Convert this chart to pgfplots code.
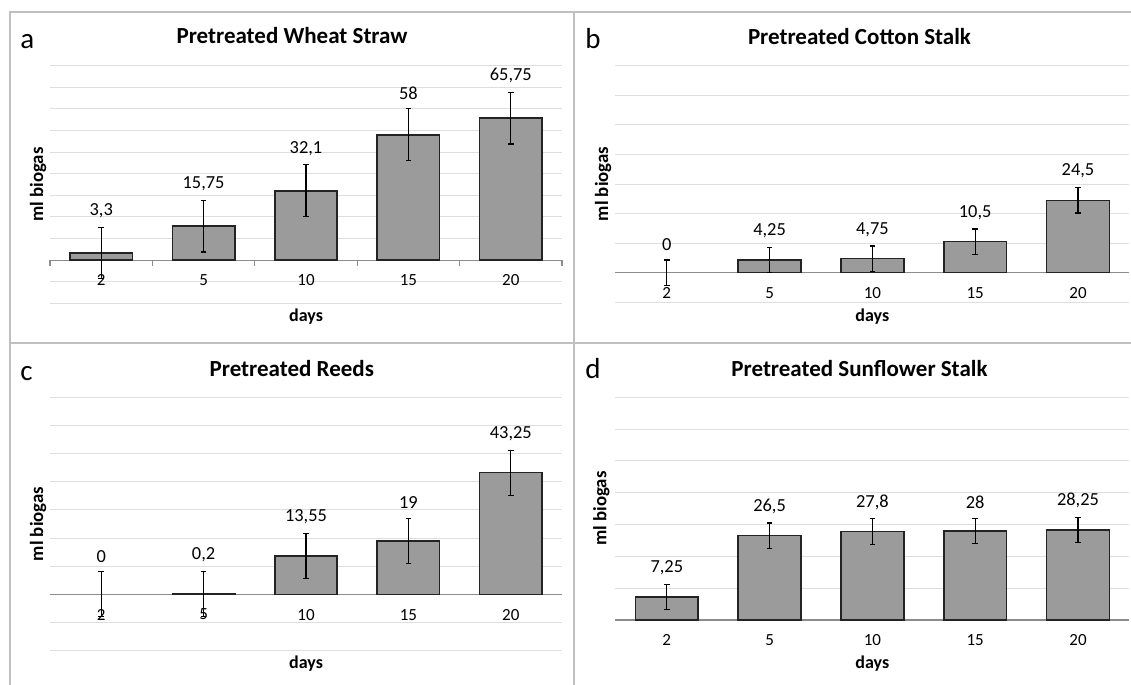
\documentclass[border=0pt]{standalone}
\usepackage{pgfplots}
\pgfplotsset{compat=1.18}
\usepackage{pgfplotstable}
\usepackage{fontspec}
\setmainfont{Carlito}
\definecolor{barfill}{RGB}{155,155,155}
\definecolor{gridc}{RGB}{222,222,222}
\definecolor{axc}{RGB}{140,140,140}
\definecolor{framec}{RGB}{192,192,192}
\definecolor{barline}{RGB}{35,35,35}

\pgfplotstableread{
x y e top lab
0 3.3 12 15.3 3,3
1 15.75 12 27.75 15,75
2 32.1 12 44.1 32,1
3 58 12 70 58
4 65.75 12 77.75 65,75
}\dataA
\pgfplotstableread{
x y e top lab
0 0 4.3 4.3 0
1 4.25 4.3 8.55 4,25
2 4.75 4.3 9.05 4,75
3 10.5 4.3 14.8 10,5
4 24.5 4.3 28.8 24,5
}\dataB
\pgfplotstableread{
x y e top lab
0 0 8 8 0
1 0.2 8 8.2 0,2
2 13.55 8 21.55 13,55
3 19 8 27 19
4 43.25 8 51.25 43,25
}\dataC
\pgfplotstableread{
x y e top lab
0 7.25 4 11.25 7,25
1 26.5 4 30.5 26,5
2 27.8 4 31.8 27,8
3 28 4 32 28
4 28.25 4 32.25 28,25
}\dataD

\pgfplotsset{
 panel/.style={
   scale only axis, anchor=south west,
   xmin=-0.5, xmax=4.5,
   axis x line*=middle, axis y line*=left,
   y axis line style={draw=none},
   x axis line style={draw=axc, line width=0.6pt},
   xtick={0,...,4}, xticklabels={2,5,10,15,20},
   major tick length=0pt,
   yticklabels={},
   ymajorgrids, grid style={draw=gridc, line width=0.5pt},
   xticklabel style={font=\fontsize{8.5}{9}\selectfont, yshift=-3.8pt},
   xlabel={days}, ylabel={ml biogas},
   every node near coord/.append style={font=\fontsize{9.2}{10}\selectfont, anchor=south, text=black, yshift=1.2pt},
 },
 ylab/.style={every axis y label/.style={at={(axis description cs:#1,0.5)}, rotate=90, anchor=center, font=\bfseries\fontsize{9.4}{10}\selectfont}},
 xlab/.style={every axis x label/.style={at={(axis description cs:0.5,#1)}, anchor=center, font=\bfseries\fontsize{9}{10}\selectfont}},
 ttl/.style n args={2}{every axis title/.style={at={(axis description cs:#1,#2)}, anchor=center, font=\bfseries\fontsize{11.5}{13}\selectfont}},
 barsty/.style={ybar, bar width=0.61, fill=barfill, draw=barline, line width=0.75pt, restrict y to domain=0.001:1000},
 errsty/.style={draw=none, mark=none, forget plot, error bars/.cd, y dir=both, y explicit, error bar style={draw=black, line width=0.55pt}, error mark options={draw=black, rotate=90, mark size=1.4pt, line width=0.55pt}},
 labsty/.style={draw=none, mark=none, nodes near coords, point meta=explicit symbolic},
}

\begin{document}
\begin{tikzpicture}
\useasboundingbox (0,0) rectangle (565.5pt,-342.5pt);
\draw[framec, line width=0.6pt] (5pt,-342.5pt) -- (5pt,-6pt) -- (565.5pt,-6pt);
\draw[framec, line width=0.6pt] (287pt,-6pt) -- (287pt,-342.5pt);
\draw[framec, line width=0.6pt] (5pt,-171.5pt) -- (565.5pt,-171.5pt);

% panel a
\begin{axis}[panel, at={(25pt,-151.65pt)}, width=256pt, height=118.8pt,
  ymin=-20, ymax=90, ytick={-20,-10,...,90},
  extra x ticks={-0.5,0.5,1.5,2.5,3.5,4.5}, extra x tick labels={},
  extra x tick style={major tick length=3pt, tick align=outside, tick style={draw=axc, line width=0.6pt}, grid=none},
  title={Pretreated Wheat Straw}, ttl={0.4727}{1.125}, ylab={-0.0234}, xlab={-0.0577}]
\addplot[barsty] table[x=x,y=y]{\dataA};
\addplot[errsty] table[x=x,y=y,y error=e]{\dataA};
\addplot[labsty] table[x=x,y=top,meta=lab]{\dataA};
\end{axis}

% panel b
\begin{axis}[panel, at={(307.7pt,-151.15pt)}, width=257pt, height=118.3pt,
  ymin=-10, ymax=70, ytick={-10,0,...,70},
  title={Pretreated Cotton Stalk}, ttl={0.4749}{1.1226}, ylab={-0.0241}, xlab={-0.0609}]
\addplot[barsty] table[x=x,y=y]{\dataB};
\addplot[errsty] table[x=x,y=y,y error=e]{\dataB};
\addplot[labsty] table[x=x,y=top,meta=lab]{\dataB};
\end{axis}

% panel c
\begin{axis}[panel, at={(25pt,-325.35pt)}, width=256pt, height=126.7pt,
  ymin=-20, ymax=70, ytick={-20,-10,...,70},
  title={Pretreated Reeds}, ttl={0.4723}{1.1144}, ylab={-0.0234}, xlab={-0.0497}]
\addplot[barsty] table[x=x,y=y]{\dataC};
\addplot[errsty] table[x=x,y=y,y error=e]{\dataC};
\addplot[labsty] table[x=x,y=top,meta=lab]{\dataC};
\end{axis}

% panel d
\begin{axis}[panel, at={(307.7pt,-310pt)}, width=257pt, height=111.35pt,
  ymin=0, ymax=70, ytick={0,10,...,70},
  title={Pretreated Sunflower Stalk}, ttl={0.4749}{1.1316}, ylab={-0.0272}, xlab={-0.1976}]
\addplot[barsty] table[x=x,y=y]{\dataD};
\addplot[errsty] table[x=x,y=y,y error=e]{\dataD};
\addplot[labsty] table[x=x,y=top,meta=lab]{\dataD};
\end{axis}

\node[anchor=base west, inner sep=0, font=\fontsize{14.5}{16}\selectfont] at (10pt,-24.15pt) {a};
\node[anchor=base west, inner sep=0, font=\fontsize{14.5}{16}\selectfont] at (292.5pt,-24.15pt) {b};
\node[anchor=base west, inner sep=0, font=\fontsize{14.5}{16}\selectfont] at (10pt,-190.35pt) {c};
\node[anchor=base west, inner sep=0, font=\fontsize{14.5}{16}\selectfont] at (292.5pt,-189.15pt) {d};
\end{tikzpicture}
\end{document}
